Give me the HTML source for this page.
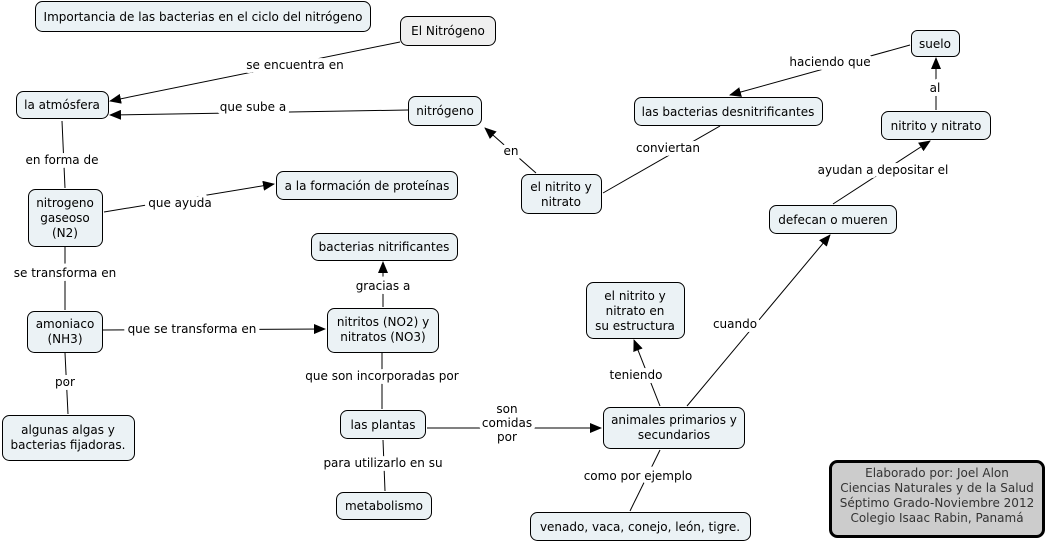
<!DOCTYPE html>
<html><head><meta charset="utf-8"><style>
html,body{margin:0;padding:0;background:#fff}
svg{display:block}
text{font-family:"DejaVu Sans","Liberation Sans",sans-serif;font-size:12px;fill:#000;text-anchor:middle}
.lbl{paint-order:stroke;stroke:#fff;stroke-width:8px;stroke-linejoin:round}
.n{fill:#ebf2f5;stroke:#000;stroke-width:1}
line{stroke:#000;stroke-width:1}
</style></head><body>
<svg width="1047" height="542" viewBox="0 0 1047 542" xmlns="http://www.w3.org/2000/svg">
<defs><marker id="a" markerWidth="12" markerHeight="10" refX="11" refY="5" orient="auto" markerUnits="userSpaceOnUse"><path d="M0,0 L12,5 L0,10 z" fill="#000"/></marker></defs>
<g>
<line x1="400" y1="42" x2="110" y2="101" marker-end="url(#a)"/>
<line x1="408" y1="110" x2="110" y2="115" marker-end="url(#a)"/>
<line x1="62" y1="121" x2="65" y2="188"/>
<line x1="104" y1="212" x2="274" y2="184" marker-end="url(#a)"/>
<line x1="65" y1="247" x2="65" y2="310"/>
<line x1="102" y1="330" x2="325" y2="329" marker-end="url(#a)"/>
<line x1="65" y1="353" x2="68" y2="414"/>
<line x1="383" y1="307" x2="383" y2="262" marker-end="url(#a)"/>
<line x1="382" y1="353" x2="382" y2="409"/>
<line x1="427" y1="428" x2="601" y2="428" marker-end="url(#a)"/>
<line x1="383" y1="440" x2="385" y2="491"/>
<line x1="660" y1="406" x2="634" y2="340" marker-end="url(#a)"/>
<line x1="687" y1="406" x2="830" y2="235" marker-end="url(#a)"/>
<line x1="660" y1="450" x2="630" y2="511"/>
<line x1="833" y1="204" x2="930" y2="141" marker-end="url(#a)"/>
<line x1="936" y1="110" x2="936" y2="58" marker-end="url(#a)"/>
<line x1="910" y1="45" x2="730" y2="95" marker-end="url(#a)"/>
<line x1="603" y1="193" x2="720" y2="126"/>
<line x1="536" y1="173" x2="485" y2="128" marker-end="url(#a)"/>
</g>
<g>
<text class="lbl" x="295" y="69">se encuentra en</text>
<text class="lbl" x="253" y="111">que sube a</text>
<text class="lbl" x="62" y="164">en forma de</text>
<text class="lbl" x="180" y="207">que ayuda</text>
<text class="lbl" x="65" y="277">se transforma en</text>
<text class="lbl" x="192" y="333">que se transforma en</text>
<text class="lbl" x="65" y="386">por</text>
<text class="lbl" x="383" y="290">gracias a</text>
<text class="lbl" x="382" y="380">que son incorporadas por</text>
<text class="lbl" x="507" y="413">son</text>
<text class="lbl" x="507" y="427">comidas</text>
<text class="lbl" x="507" y="441">por</text>
<text class="lbl" x="383" y="467">para utilizarlo en su</text>
<text class="lbl" x="636" y="379">teniendo</text>
<text class="lbl" x="735" y="328">cuando</text>
<text class="lbl" x="638" y="480">como por ejemplo</text>
<text class="lbl" x="883" y="174">ayudan a depositar el</text>
<text class="lbl" x="935" y="92">al</text>
<text class="lbl" x="830" y="66">haciendo que</text>
<text class="lbl" x="668" y="152">conviertan</text>
<text class="lbl" x="511" y="155">en</text>
</g>
<g>
<rect class="n" x="35.5" y="1.5" width="335" height="30" rx="7"/><text x="203" y="21">Importancia de las bacterias en el ciclo del nitrógeno</text>
<rect class="n" x="400.5" y="16.5" width="95" height="29" rx="7" style="fill:#efefef"/><text x="448" y="35">El Nitrógeno</text>
<rect class="n" x="16.5" y="91.5" width="92" height="27" rx="7"/><text x="62" y="109">la atmósfera</text>
<rect class="n" x="408.5" y="96.5" width="73" height="29" rx="7"/><text x="445" y="115">nitrógeno</text>
<rect class="n" x="911.5" y="30.5" width="48" height="26" rx="6"/><text x="935" y="48">suelo</text>
<rect class="n" x="634.5" y="97.5" width="188" height="28" rx="7"/><text x="728" y="116">las bacterias desnitrificantes</text>
<rect class="n" x="881.5" y="111.5" width="109" height="28" rx="7"/><text x="936" y="130">nitrito y nitrato</text>
<rect class="n" x="521.5" y="174.5" width="80" height="39" rx="7"/><text x="561" y="191">el nitrito y</text><text x="561" y="206">nitrato</text>
<rect class="n" x="28.5" y="189.5" width="74" height="57" rx="7"/><text x="65" y="207">nitrogeno</text><text x="65" y="222">gaseoso</text><text x="65" y="237">(N2)</text>
<rect class="n" x="276.5" y="171.5" width="181" height="28" rx="7"/><text x="367" y="190">a la formación de proteínas</text>
<rect class="n" x="311.5" y="233.5" width="146" height="27" rx="7"/><text x="384" y="251">bacterias nitrificantes</text>
<rect class="n" x="769.5" y="205.5" width="127" height="28" rx="7"/><text x="833" y="224">defecan o mueren</text>
<rect class="n" x="586.5" y="282.5" width="98" height="56" rx="7"/><text x="635" y="300">el nitrito y</text><text x="635" y="315">nitrato en</text><text x="635" y="330">su estructura</text>
<rect class="n" x="27.5" y="311.5" width="75" height="41" rx="7"/><text x="65" y="328">amoniaco</text><text x="65" y="343">(NH3)</text>
<rect class="n" x="327.5" y="308.5" width="111" height="44" rx="7"/><text x="383" y="326">nitritos (NO2) y</text><text x="383" y="341">nitratos (NO3)</text>
<rect class="n" x="2.5" y="415.5" width="132" height="45" rx="7"/><text x="68" y="434">algunas algas y</text><text x="68" y="449">bacterias fijadoras.</text>
<rect class="n" x="340.5" y="410.5" width="85" height="28" rx="7"/><text x="383" y="429">las plantas</text>
<rect class="n" x="603.5" y="407.5" width="141" height="41" rx="7"/><text x="674" y="424">animales primarios y</text><text x="674" y="439">secundarios</text>
<rect class="n" x="336.5" y="492.5" width="95" height="27" rx="7"/><text x="384" y="510">metabolismo</text>
<rect class="n" x="530.5" y="512.5" width="220" height="28" rx="7"/><text x="640" y="531">venado, vaca, conejo, león, tigre.</text>
<rect x="830.5" y="461.5" width="213" height="75" rx="7" fill="#cccccc" stroke="#000" stroke-width="3"/>
<text x="937" y="477" style="fill:#333">Elaborado por: Joel Alon</text>
<text x="937" y="492" style="fill:#333">Ciencias Naturales y de la Salud</text>
<text x="937" y="507" style="fill:#333">Séptimo Grado-Noviembre 2012</text>
<text x="937" y="522" style="fill:#333">Colegio Isaac Rabin, Panamá</text>
</g>
</svg>
</body></html>
